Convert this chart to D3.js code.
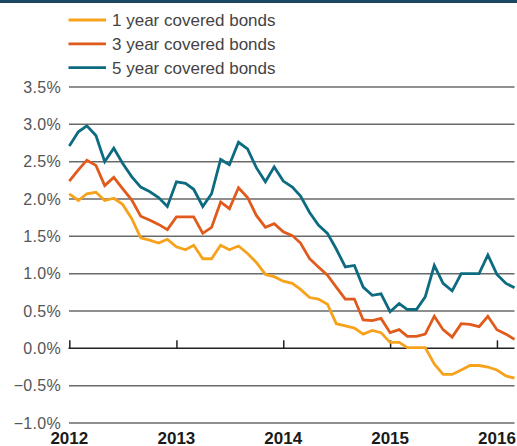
<!DOCTYPE html>
<html>
<head>
<meta charset="utf-8">
<script src="https://cdn.jsdelivr.net/npm/d3@7"></script>
<style>
  html, body { margin: 0; padding: 0; background: #fff; }
  svg { display: block; }
</style>
</head>
<body>
<svg id="chart" width="517" height="446"></svg>
<script>
// Monthly yields, January 2012 to March 2016 (per cent)
const startMonth = "2012-01";
const seriesNames = ["1 year covered bonds", "3 year covered bonds", "5 year covered bonds"];
const seriesColors = ["#f7a21b", "#e05a1b", "#0c6b80"];

const oneYear = [
  2.07, 1.98, 2.07, 2.09, 1.98, 2.01, 1.93, 1.74, 1.48, 1.45, 1.41, 1.46,
  1.36, 1.32, 1.38, 1.20, 1.20, 1.38, 1.32, 1.37, 1.27, 1.15, 0.99, 0.96,
  0.90, 0.87, 0.79, 0.68, 0.66, 0.59, 0.33, 0.30, 0.27, 0.19, 0.24, 0.21,
  0.08, 0.08, 0.01, 0.01, 0.01, -0.21, -0.35, -0.35, -0.29, -0.23, -0.23, -0.25,
  -0.29, -0.37, -0.40
];
const threeYear = [
  2.24, 2.39, 2.52, 2.45, 2.18, 2.29, 2.14, 1.99, 1.77, 1.72, 1.66, 1.59,
  1.76, 1.76, 1.76, 1.54, 1.62, 1.96, 1.87, 2.15, 2.02, 1.78, 1.62, 1.67,
  1.56, 1.51, 1.41, 1.20, 1.09, 0.98, 0.82, 0.66, 0.66, 0.38, 0.37, 0.40,
  0.21, 0.25, 0.16, 0.16, 0.19, 0.43, 0.25, 0.15, 0.33, 0.32, 0.29, 0.43,
  0.25, 0.19, 0.12
];
const fiveYear = [
  2.71, 2.90, 2.98, 2.85, 2.50, 2.68, 2.48, 2.30, 2.16, 2.10, 2.02, 1.90,
  2.23, 2.21, 2.13, 1.90, 2.07, 2.53, 2.46, 2.76, 2.67, 2.42, 2.23, 2.43,
  2.24, 2.16, 2.04, 1.82, 1.65, 1.54, 1.33, 1.09, 1.11, 0.82, 0.71, 0.73,
  0.49, 0.60, 0.52, 0.52, 0.69, 1.11, 0.87, 0.77, 1.00, 1.00, 1.00, 1.25,
  0.99, 0.87, 0.81
];

const yTicks = [3.5, 3.0, 2.5, 2.0, 1.5, 1.0, 0.5, 0.0, -0.5, -1.0];
const yearTicks = ["2012", "2013", "2014", "2015", "2016"];

const seriesValues = [oneYear, threeYear, fiveYear];
const parseMonth = d3.timeParse("%Y-%m");
const first = parseMonth(startMonth);
const dates = oneYear.map((_, i) => d3.timeMonth.offset(first, i));
const font = "Liberation Sans, Arial, sans-serif";

const svg = d3.select("#chart");
const W = 517;

const x = d3.scaleTime()
  .domain([first, dates[dates.length - 1]])
  .range([69.3, 514.5]);
const y = d3.scaleLinear().domain([-1, 3.5]).range([423, 87]);

// top band
svg.append("rect").attr("x", 0).attr("y", 0).attr("width", W).attr("height", 3)
  .attr("fill", "#1b4763");

// horizontal gridlines
svg.append("g").selectAll("line").data(yTicks.filter(v => v !== 0)).join("line")
  .attr("x1", 69).attr("x2", 514.5)
  .attr("y1", d => y(d)).attr("y2", d => y(d))
  .attr("stroke", d => d === 3.5 ? "#222" : "#6a6a6a")
  .attr("stroke-width", d => d === 3.5 ? 1.2 : 1.5);

// y labels
svg.append("g").selectAll("text").data(yTicks).join("text")
  .attr("x", 61).attr("y", d => y(d) + 5.6)
  .attr("text-anchor", "end")
  .attr("font-family", font)
  .attr("font-size", 16)
  .attr("letter-spacing", 0.3)
  .attr("fill", "#555")
  .text(d => d3.format(".1f")(d) + "%");

// zero axis with year ticks
const xAxis = d3.axisTop(x)
  .tickValues(yearTicks.map(t => d3.timeParse("%Y")(t)))
  .tickSize(8)
  .tickFormat("");
const ax = svg.append("g").attr("transform", `translate(0,${y(0)})`).call(xAxis);
ax.select(".domain").remove();
ax.selectAll(".tick line").attr("stroke", "#222").attr("stroke-width", 1.5);
svg.append("line")
  .attr("x1", 68.5).attr("x2", 514.5)
  .attr("y1", y(0)).attr("y2", y(0))
  .attr("stroke", "#222").attr("stroke-width", 1.5);

// year labels
svg.append("g").selectAll("text").data(yearTicks).join("text")
  .attr("x", d => x(d3.timeParse("%Y")(d)))
  .attr("y", 443.5)
  .attr("text-anchor", "middle")
  .attr("font-family", font)
  .attr("font-weight", "bold")
  .attr("font-size", 17)
  .attr("fill", "#1a1a1a")
  .text(d => d);

// series lines
const line = d3.line().x((d, i) => x(dates[i])).y(d => y(d));
svg.append("g").selectAll("path").data(seriesValues).join("path")
  .attr("d", d => line(d))
  .attr("fill", "none")
  .attr("stroke", (d, i) => seriesColors[i])
  .attr("stroke-width", 2.8)
  .attr("stroke-linejoin", "miter");

// legend
const legend = svg.append("g").selectAll("g").data(seriesNames).join("g")
  .attr("transform", (d, i) => `translate(0,${20 + i * 23.8})`);
legend.append("line")
  .attr("x1", 68.5).attr("x2", 106).attr("y1", 0).attr("y2", 0)
  .attr("stroke", (d, i) => seriesColors[i]).attr("stroke-width", 2.8);
legend.append("text")
  .attr("x", 112).attr("y", 6)
  .attr("font-family", font)
  .attr("font-size", 17)
  .attr("fill", "#444")
  .text(d => d);
</script>
</body>
</html>
